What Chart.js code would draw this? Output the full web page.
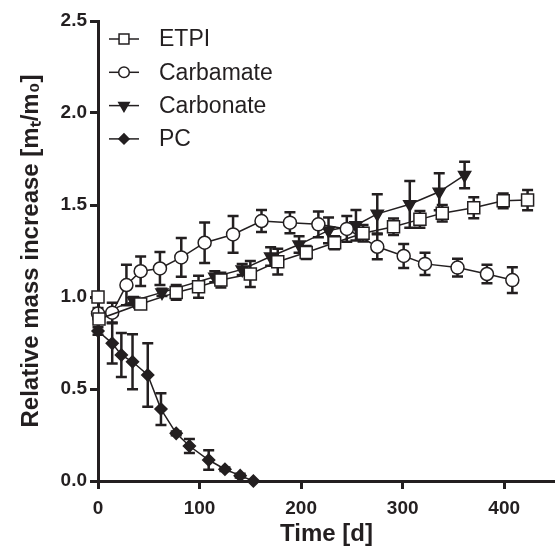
<!DOCTYPE html>
<html>
<head>
<meta charset="utf-8">
<script src="https://cdn.jsdelivr.net/npm/chart.js@4"></script>
<style>
  html, body { margin: 0; padding: 0; background: #fff; }
  #wrap { width: 555px; height: 549px; }
</style>
</head>
<body>
<div id="wrap"><canvas id="massChart" width="555" height="549"></canvas></div>
<script>
// Werte
const etpiT = [0, 1, 42, 77, 99, 121, 150, 177, 205, 233, 261, 291, 317, 339, 370, 399, 423];
const etpiY = [1.0, 0.88, 0.962, 1.025, 1.056, 1.092, 1.125, 1.192, 1.242, 1.295, 1.346, 1.382, 1.422, 1.455, 1.485, 1.523, 1.527];
const etpiErr = [0.01, 0.02, 0.02, 0.04, 0.06, 0.04, 0.07, 0.07, 0.035, 0.035, 0.045, 0.045, 0.045, 0.045, 0.057, 0.04, 0.055];

const carbamateT = [0, 14, 28, 42, 61, 82, 105, 133, 161, 189, 217, 245, 275, 301, 322, 354, 383, 408];
const carbamateY = [0.91, 0.915, 1.065, 1.14, 1.155, 1.215, 1.295, 1.34, 1.413, 1.404, 1.395, 1.37, 1.273, 1.223, 1.18, 1.16, 1.125, 1.092];
const carbamateErr = [0.03, 0.054, 0.11, 0.08, 0.09, 0.105, 0.11, 0.10, 0.06, 0.057, 0.07, 0.07, 0.068, 0.065, 0.06, 0.048, 0.05, 0.07];

const carbonateT = [0, 35, 63, 115, 142, 170, 198, 227, 254, 275, 307, 336, 361];
const carbonateY = [0.9, 0.98, 1.025, 1.11, 1.15, 1.22, 1.285, 1.362, 1.39, 1.452, 1.504, 1.572, 1.663];
const carbonateErr = [0.02, 0.02, 0.02, 0.03, 0.03, 0.05, 0.045, 0.07, 0.083, 0.107, 0.127, 0.1, 0.072];

const pcT = [0, 14, 23, 34, 49, 62, 77, 90, 109, 125, 140, 153];
const pcY = [0.815, 0.748, 0.685, 0.648, 0.576, 0.391, 0.259, 0.19, 0.114, 0.064, 0.029, 0.0];
const pcErr = [0.02, 0.11, 0.12, 0.15, 0.173, 0.086, 0.01, 0.038, 0.053, 0.01, 0.01, 0.0];

const xTicks = [0, 100, 200, 300, 400];
const ink = "#231f20";
const fontFam = "'Liberation Sans', Arial, Helvetica, sans-serif";

const pts = (t, y) => t.map((v, i) => ({ x: v, y: y[i] }));

const seriesList = [
    { label: "ETPI", t: etpiT, y: etpiY, err: etpiErr, style: "rect", r: 8.5, rot: 0, fill: "#fff", legR: 7 },
    { label: "Carbamate", t: carbamateT, y: carbamateY, err: carbamateErr, style: "circle", r: 6.5, rot: 0, fill: "#fff", legR: 5.3 },
    { label: "Carbonate", t: carbonateT, y: carbonateY, err: carbonateErr, style: "triangle", r: 7, rot: 180, fill: ink, legR: 6 },
    { label: "PC", t: pcT, y: pcY, err: pcErr, style: "rectRot", r: 6, rot: 0, fill: ink, legR: 5 },
];

// Fehlerbalken hinter den Symbolen
const errorBars = {
    id: "errorBars",
    beforeDatasetsDraw(chart) {
        const { ctx, scales: { x, y } } = chart;
        ctx.save();
        ctx.strokeStyle = ink;
        ctx.lineWidth = 2.5;
        seriesList.forEach(s => {
            s.t.forEach((t, i) => {
                const e = s.err[i];
                if (!e) return;
                const px = x.getPixelForValue(t);
                const top = y.getPixelForValue(s.y[i] + e);
                const bot = y.getPixelForValue(s.y[i] - e);
                ctx.beginPath();
                ctx.moveTo(px, top); ctx.lineTo(px, bot);
                ctx.moveTo(px - 5.5, top); ctx.lineTo(px + 5.5, top);
                ctx.moveTo(px - 5.5, bot); ctx.lineTo(px + 5.5, bot);
                ctx.stroke();
            });
        });
        ctx.restore();
    },
};

// Legende wie im Original: Linie mit Symbol
const lineLegend = {
    id: "lineLegend",
    afterDraw(chart) {
        const { ctx, chartArea } = chart;
        const x0 = chartArea.left + 11;
        ctx.save();
        seriesList.forEach((s, i) => {
            const yy = chartArea.top + 18 + i * 33.3;
            ctx.strokeStyle = ink;
            ctx.lineWidth = 1.5;
            ctx.beginPath();
            ctx.moveTo(x0, yy); ctx.lineTo(x0 + 30, yy);
            ctx.stroke();
            ctx.fillStyle = s.fill;
            ctx.strokeStyle = ink;
            ctx.lineWidth = 1.5;
            Chart.helpers.drawPoint(ctx, { pointStyle: s.style, radius: s.legR, rotation: s.rot, borderWidth: 1.5 }, x0 + 15, yy);
            ctx.fillStyle = ink;
            ctx.font = "23px " + fontFam;
            ctx.textAlign = "left";
            ctx.textBaseline = "middle";
            ctx.fillText(s.label, x0 + 50, yy + 1);
        });
        ctx.restore();
    },
};

new Chart(document.getElementById("massChart"), {
    type: "line",
    data: {
        datasets: seriesList.map(s => ({
            label: s.label,
            data: pts(s.t, s.y),
            borderColor: ink,
            borderWidth: 1.5,
            pointStyle: s.style,
            pointRadius: s.r,
            pointRotation: s.rot,
            pointBackgroundColor: s.fill,
            pointBorderColor: ink,
            pointBorderWidth: 1.5,
            tension: 0,
            fill: false,
            clip: false,
        })),
    },
    options: {
        responsive: false,
        animation: false,
        events: [],
        layout: { autoPadding: false, padding: { top: 21, right: 0, left: 0, bottom: 0 } },
        plugins: { legend: { display: false }, tooltip: { enabled: false } },
        scales: {
            x: {
                type: "linear",
                min: 0,
                max: 450,
                afterBuildTicks: s => { s.ticks = xTicks.map(v => ({ value: v })); },
                afterFit: s => { s.height = 68; s.paddingRight = 0; s.paddingLeft = 0; },
                grid: { drawOnChartArea: false, drawTicks: true, tickLength: 8, tickWidth: 3, color: ink },
                border: { display: true, width: 3, color: ink },
                ticks: { color: ink, padding: 8, font: { family: fontFam, size: 19, weight: "bold" } },
                title: { display: true, text: "Time [d]", color: ink, padding: { top: 0, bottom: 0 }, font: { family: fontFam, size: 24, weight: "bold" } },
            },
            y: {
                min: 0,
                max: 2.5,
                afterFit: s => { s.width = 98; },
                grid: { drawOnChartArea: false, drawTicks: true, tickLength: 8, tickWidth: 3, color: ink },
                border: { display: true, width: 3, color: ink },
                ticks: { stepSize: 0.5, color: ink, padding: 3, callback: v => v.toFixed(1), font: { family: fontFam, size: 19, weight: "bold" } },
                title: { display: true, text: "Relative mass increase [mₜ/m₀]", color: ink, padding: { top: 17, bottom: 4 }, font: { family: fontFam, size: 24, weight: "bold" } },
            },
        },
    },
    plugins: [errorBars, lineLegend],
});
</script>
</body>
</html>
